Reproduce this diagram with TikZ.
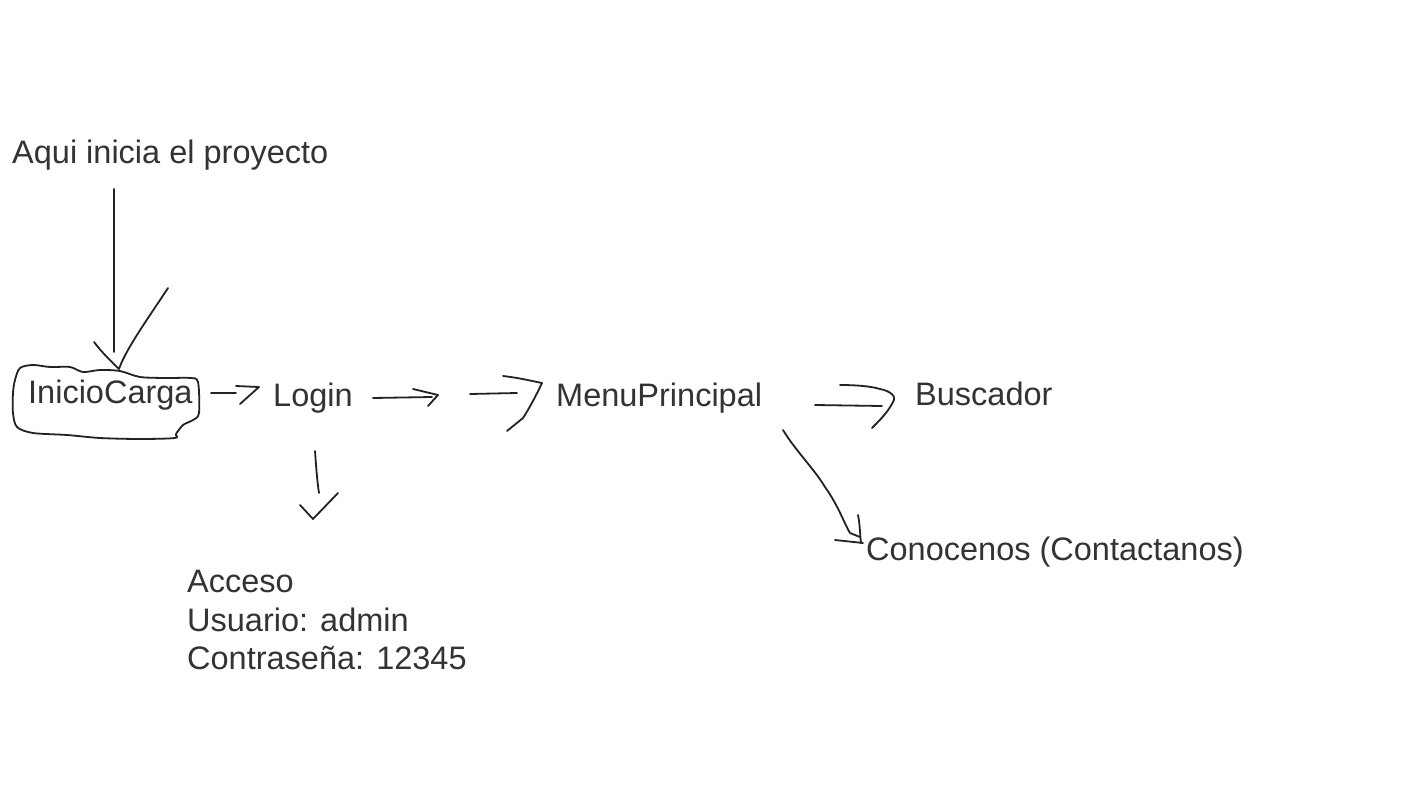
\documentclass[tikz,border=0pt]{standalone}
\usepackage{fontspec}
\setmainfont{Liberation Sans}
\definecolor{txt}{HTML}{333333}
\definecolor{ink}{HTML}{222222}
\begin{document}
\begin{tikzpicture}[x=1pt,y=-1pt,
  lbl/.style={anchor=base west,inner sep=0pt,text=txt,font=\fontsize{32.5}{38}\selectfont},
  pen/.style={draw=ink,line width=1.8pt,line cap=round,line join=round}]
\useasboundingbox[fill=white] (0,0) rectangle (1422,800);
\node[lbl] (aqui) at (12,163) {Aqui inicia el proyecto};
\node[lbl] (inicio) at (28,403) {InicioCarga};
\node[lbl] (login) at (273,406) {Login};
\node[lbl] (menu) at (556,406) {MenuPrincipal};
\node[lbl] (busc) at (915,405) {Buscador};
\node[lbl] (conoc) at (866,560) {Conocenos (Contactanos)};
\node[lbl] (acceso) at (187,592) {Acceso};
\node[lbl] (usuario) at (187,631) {Usuario: admin};
\node[lbl] (contra) at (187,669) {Contraseña: 12345};
% start arrow
\draw[pen] (114,189) -- (114,352);
\draw[pen] (94,342) .. controls (104,355) and (112,362) .. (119,369)
  .. controls (125,352) and (140,330) .. (160,300) -- (168,288);
% enclosure
\draw[pen] plot[smooth cycle,tension=0.5] coordinates {(20,368) (33,365) (50,367) (70,367) (83,372) (100,370) (120,371) (140,377) (167,378) (190,378) (198,382) (199,413) (193,420) (183,425) (176,434) (175,438) (140,439) (100,438) (67,435) (33,433) (17,427) (13,413) (13,393) (15,380)};
% InicioCarga -> Login
\draw[pen] (211,393) -- (236,393);
\draw[pen] (236,386) -- (259,387) -- (240,404);
% Login -> 
\draw[pen] (373,398) -- (432,397);
\draw[pen] (413,389) -- (438,395) -- (428,406);
% -> MenuPrincipal
\draw[pen] (470,394) -- (517,393);
\draw[pen] (503,376) .. controls (520,378) and (532,381) .. (542,383)
  .. controls (535,398) and (527,412) .. (523,418) -- (507,431);
% MenuPrincipal -> Buscador
\draw[pen] (815,405) -- (882,406);
\draw[pen] (840,385) .. controls (855,385) and (870,386) .. (880,389)
  .. controls (890,391) and (897,396) .. (893,402) .. controls (888,412) and (880,420) .. (872,428);
% MenuPrincipal -> Conocenos
\draw[pen] (783,430) .. controls (795,450) and (815,470) .. (825,487)
  .. controls (838,505) and (845,525) .. (850,533) -- (860,537);
\draw[pen] (835,540) -- (863,543);
\draw[pen] (858,515) .. controls (860,525) and (860,535) .. (861,543);
% Login -> Acceso
\draw[pen] (315,451) .. controls (316,465) and (317,480) .. (319,493);
\draw[pen] (300,505) -- (313,519) -- (338,493);
\end{tikzpicture}
\end{document}
